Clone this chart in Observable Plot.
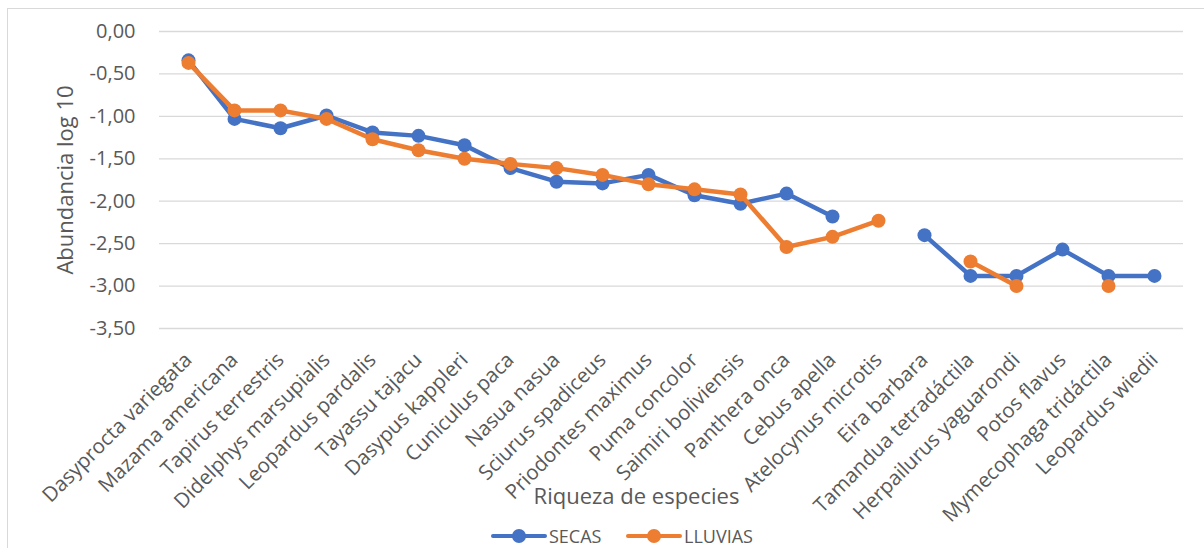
<!DOCTYPE html>
<html>
<head>
<meta charset="utf-8">
<script src="https://cdn.jsdelivr.net/npm/d3@7"></script>
<script src="https://cdn.jsdelivr.net/npm/@observablehq/plot@0.6"></script>
<style>
  html, body { margin: 0; padding: 0; background: #fff; }
  #wrap { position: relative; width: 1204px; height: 548px; overflow: hidden; font-family: "Open Sans", sans-serif; color: #595959; }
  #frame { position: absolute; left: 7px; top: 8px; width: 1300px; height: 700px; border-left: 1.3px solid #d9d9d9; border-top: 1.3px solid #d9d9d9; }
  #chart { position: absolute; left: 0; top: 0; }
  .leg { position: absolute; top: 524px; height: 24px; display: flex; align-items: center; font-size: 18px; }
  .sw { position: relative; width: 56px; height: 24px; margin-right: 2px; }
  .sw .ln { position: absolute; left: 0; right: 0; top: 9.5px; height: 4.5px; border-radius: 2px; }
  .sw .mk { position: absolute; left: 21px; top: 5px; width: 14px; height: 14px; border-radius: 50%; }
</style>
</head>
<body>
<div id="wrap">
  <div id="frame"></div>
  <div id="chart"></div>
  <div class="leg" style="left:491px"><div class="sw"><div class="ln" style="background:#4472C4"></div><div class="mk" style="background:#4472C4"></div></div><span>SECAS</span></div>
  <div class="leg" style="left:626px"><div class="sw"><div class="ln" style="background:#ED7D31"></div><div class="mk" style="background:#ED7D31"></div></div><span>LLUVIAS</span></div>
</div>
<script>
const species = [
  "Dasyprocta variegata", "Mazama americana", "Tapirus terrestris", "Didelphys marsupialis",
  "Leopardus pardalis", "Tayassu tajacu", "Dasypus kappleri", "Cuniculus paca",
  "Nasua nasua", "Sciurus spadiceus", "Priodontes maximus", "Puma concolor",
  "Saimiri boliviensis", "Panthera onca", "Cebus apella", "Atelocynus microtis",
  "Eira barbara", "Tamandua tetradáctila", "Herpailurus yaguarondi", "Potos flavus",
  "Mymecophaga tridáctila", "Leopardus wiedii"
];
const secas = [
  -0.34, -1.03, -1.14, -0.99, -1.19, -1.23, -1.34, -1.61,
  -1.77, -1.79, -1.69, -1.93, -2.03, -1.91, -2.18, null,
  -2.40, -2.88, -2.88, -2.57, -2.88, -2.88
];
const lluvias = [
  -0.37, -0.93, -0.93, -1.03, -1.27, -1.40, -1.50, -1.56,
  -1.61, -1.69, -1.80, -1.86, -1.92, -2.54, -2.42, -2.23,
  null, -2.71, -3.00, null, -3.00, null
];
const yTicks = [0, -0.5, -1, -1.5, -2, -2.5, -3, -3.5];
const xTitle = "Riqueza de especies";
const yTitle = "Abundancia log 10";

const rows = species.map((s, i) => ({species: s, secas: secas[i], lluvias: lluvias[i]}));
const blue = "#4472C4", orange = "#ED7D31", txt = "#595959";
const fmt = d => d.toFixed(2).replace(".", ",");

const H = 520;
const chart = Plot.plot({
  width: 1204,
  height: H,
  marginLeft: 159,
  marginRight: 21,
  marginTop: 31,
  marginBottom: H - 328,
  style: {fontFamily: "Open Sans, sans-serif", color: txt, background: "transparent", overflow: "visible"},
  x: {type: "point", domain: species, padding: 0.5},
  y: {domain: [-3.5, 0]},
  marks: [
    Plot.gridY(yTicks, {stroke: "#d9d9d9", strokeOpacity: 1, strokeWidth: 1.3}),
    Plot.axisY(yTicks, {tickSize: 0, tickPadding: 24, tickFormat: fmt, fontSize: 20, fill: txt, label: null}),
    Plot.axisX({tickSize: 0, tickPadding: 28, tickRotate: -45, fontSize: 20.5, fill: txt, label: null}),
    Plot.text([yTitle], {frameAnchor: "left", textAnchor: "middle", dx: -94, rotate: -90, fontSize: 22, fill: txt}),
    Plot.text([xTitle], {frameAnchor: "bottom", textAnchor: "middle", dx: -35, dy: 175, fontSize: 22, fill: txt}),
    Plot.line(rows, {x: "species", y: "secas", stroke: blue, strokeWidth: 4.5, strokeLinejoin: "round", strokeLinecap: "round"}),
    Plot.dot(rows, {x: "species", y: "secas", r: 7, fill: blue, stroke: "none"}),
    Plot.line(rows, {x: "species", y: "lluvias", stroke: orange, strokeWidth: 4.5, strokeLinejoin: "round", strokeLinecap: "round"}),
    Plot.dot(rows, {x: "species", y: "lluvias", r: 7, fill: orange, stroke: "none"})
  ]
});
document.getElementById("chart").appendChild(chart);
</script>
</body>
</html>
